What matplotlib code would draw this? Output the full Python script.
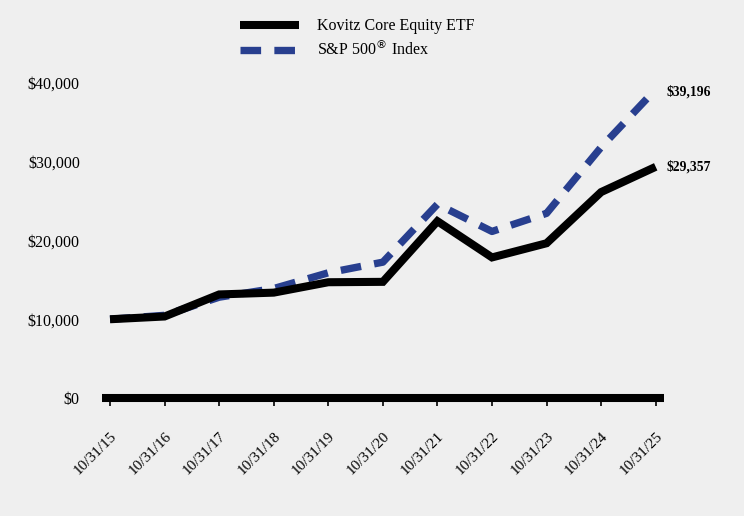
import matplotlib.pyplot as plt
from matplotlib.ticker import FuncFormatter
from matplotlib.transforms import ScaledTranslation

dates = ["10/31/15", "10/31/16", "10/31/17", "10/31/18", "10/31/19", "10/31/20",
         "10/31/21", "10/31/22", "10/31/23", "10/31/24", "10/31/25"]
kovitz = [10000, 10350, 13150, 13380, 14700, 14750, 22450, 17850, 19650, 26150, 29357]
sp500 = [10000, 10500, 12800, 13900, 15900, 17250, 24600, 21150, 23450, 31850, 39196]

plt.rcParams['font.family'] = ['Liberation Serif', 'DejaVu Serif']

fig = plt.figure(figsize=(7.44, 5.16), dpi=100, facecolor='#efefef')
# axes: x from 102 to 664 px, y=0 at 398 px, y=40000 at 83 px
ax = fig.add_axes([102 / 744, 1 - 398 / 516, 562 / 744, 315 / 516])
ax.set_facecolor('#efefef')

x = range(len(dates))
ax.plot(x, kovitz, color='black', linewidth=5.8, label='Kovitz Core Equity ETF',
        solid_joinstyle='miter', solid_capstyle='butt', clip_on=False, zorder=3)
ax.plot(x, sp500, color='#283f8f', linewidth=5.3, linestyle=(0, (2.8, 1.8)),
        dash_capstyle='butt', label='S&P 500$^{\\circledR}$ Index', clip_on=False, zorder=2)

ax.set_xlim(-0.147, 10.152)
ax.set_ylim(0, 40000)
ax.set_yticks([0, 10000, 20000, 30000, 40000])
ax.yaxis.set_major_formatter(FuncFormatter(lambda v, p: f"${v:,.0f}"))
ax.set_xticks(list(x))
ax.set_xticklabels(dates, rotation=45, ha='right', rotation_mode='anchor')
for lab in ax.get_xticklabels():
    lab.set_transform(lab.get_transform() + ScaledTranslation(-4 / 100, 0, fig.dpi_scale_trans))

for s in ['top', 'right', 'left']:
    ax.spines[s].set_visible(False)
ax.spines['bottom'].set_linewidth(5.8)
ax.spines['bottom'].set_capstyle('butt')
ax.spines['bottom'].set_zorder(4)
ax.tick_params(axis='y', length=0, labelsize=11.5, pad=16)
ax.tick_params(axis='x', length=5.5, width=1.2, labelsize=11, pad=17, direction='out')

ax.annotate(f"${kovitz[-1]:,}", (x[-1], kovitz[-1]), xytext=(8, 0),
            textcoords='offset points', fontsize=9.8, fontweight='bold', va='center')
ax.annotate(f"${sp500[-1]:,}", (x[-1], sp500[-1]), xytext=(8, -2),
            textcoords='offset points', fontsize=9.8, fontweight='bold', va='center')

fig.legend(loc='upper left', bbox_to_anchor=(240 / 744, 1 - 18.5 / 516), frameon=False,
           fontsize=11.5, handlelength=3.7, handletextpad=1.13, labelspacing=0.33,
           borderpad=0, borderaxespad=0)

fig.savefig('out.png', dpi=100, facecolor=fig.get_facecolor())
